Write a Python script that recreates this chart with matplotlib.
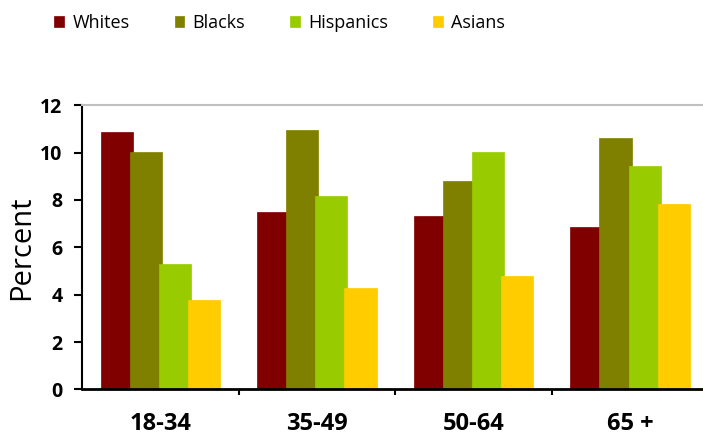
import matplotlib.pyplot as plt
import numpy as np

plt.rcParams['font.family'] = ['Open Sans', 'DejaVu Sans']

# percent by age group and race/ethnicity
age_groups = ['18-34', '35-49', '50-64', '65 +']
whites = [10.85, 7.5, 7.33, 6.85]
blacks = [10.02, 10.95, 8.78, 10.6]
hispanics = [5.3, 8.17, 10.02, 9.43]
asians = [3.78, 4.29, 4.8, 7.83]

series = [('Whites', whites, '#800000'),
          ('Blacks', blacks, '#808000'),
          ('Hispanics', hispanics, '#99cc00'),
          ('Asians', asians, '#ffcc00')]

fig = plt.figure(figsize=(7.03, 4.36), dpi=100)
ax = fig.add_axes([0.1166, 0.1067, 0.891, 0.652])

x = np.arange(len(age_groups))
step = 0.186
width = 0.205
for i, (name, vals, col) in enumerate(series):
    ax.bar(x + (i - 1.5) * step, vals, width, color=col, label=name,
           edgecolor=col, linewidth=0.5)

ax.set_xlim(-0.5, 3.5)
ax.set_ylim(0, 12)
ax.set_yticks(range(0, 13, 2))
ax.set_xticks(x)
ax.set_xticklabels(age_groups, fontsize=17, fontweight='bold')
ax.set_xticks(x[:-1] + 0.5, minor=True)
ax.tick_params(axis='x', which='major', length=0, pad=16)
ax.tick_params(axis='x', which='minor', length=4, width=1.5, direction='out')
ax.tick_params(axis='y', length=6, width=1.5, pad=8, labelsize=14)
for lab in ax.get_yticklabels():
    lab.set_fontweight('bold')

ax.spines['right'].set_visible(False)
ax.spines['top'].set_color('#c0c0c0')
ax.spines['top'].set_linewidth(1.5)
ax.spines['left'].set_linewidth(1.5)
ax.spines['bottom'].set_linewidth(2)
ax.set_ylabel('Percent', fontsize=21, labelpad=3)

fig.legend(loc='center', bbox_to_anchor=(0.398, 0.947), ncol=4, frameon=False,
           fontsize=13, handlelength=0.55, handleheight=0.55,
           handletextpad=0.45, columnspacing=2.5)

fig.savefig('out.png', dpi=100)
